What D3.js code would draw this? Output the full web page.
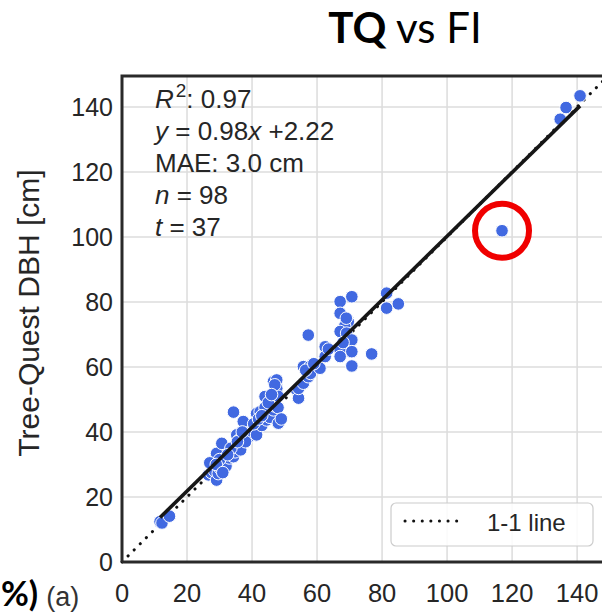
<!DOCTYPE html>
<html>
<head>
<meta charset="utf-8">
<script src="https://cdn.jsdelivr.net/npm/d3@7"></script>
<style>
  html, body { margin: 0; padding: 0; background: #fff; }
  svg { display: block; }
  text { font-family: "Liberation Sans", Arial, sans-serif; fill: #262626; }
</style>
</head>
<body>
<svg id="chart" width="602" height="613"></svg>
<script>
// field inventory DBH (x) vs Tree-Quest DBH (y), cm
var fiDbh = [11.7, 12.3, 14.6,
  26.6, 27.5, 28.1, 28.5, 29.1, 29.1, 29.6, 30.2, 30.7, 31.2, 31.5, 32.0, 33.0, 34.3, 34.8, 35.3, 35.0, 34.3, 36.0, 37.3, 36.5,
  39.0, 40.0, 41.4, 41.4, 42.5, 43.0, 44.0, 44.5, 45.0, 45.5, 46.6, 46.6, 46.6, 47.0, 47.6, 47.6, 47.6, 48.1, 48.0, 47.0, 48.0,
  53.8, 54.3, 54.3, 55.8, 55.8, 57.3, 57.8, 57.3, 58.0, 60.9, 62.5, 62.5, 63.5,
  67.1, 70.7, 67.1, 69.6, 68.5, 67.1, 69.1, 70.7, 67.1, 70.7, 67.1, 70.7, 68.0, 76.8,
  81.4, 81.4, 85.0,
  116.9, 134.8, 136.6, 140.9,
  27.0, 30.0, 33.5, 29.0, 32.5, 38.0, 40.5, 44.0, 45.0, 42.0, 46.0, 49.0, 35.5, 43.0, 31.0, 37.0, 56.5, 59.0, 69.0];
var tqDbh = [12.4, 12.0, 14.1,
  26.8, 27.5, 29.3, 28.0, 25.2, 33.4, 27.2, 28.8, 36.5, 31.4, 30.0, 29.5, 32.0, 32.4, 33.9, 39.1, 35.5, 46.1, 37.5, 43.2, 34.5,
  38.5, 40.0, 39.1, 45.7, 46.2, 42.0, 50.9, 43.7, 46.0, 44.5, 49.3, 46.8, 55.5, 48.0, 53.9, 56.0, 53.4, 42.7, 51.0, 54.5, 47.5,
  52.9, 50.4, 53.4, 55.0, 60.1, 57.0, 60.1, 69.8, 58.0, 59.6, 66.2, 63.2, 65.5,
  80.1, 81.6, 76.5, 73.9, 72.5, 70.9, 70.4, 68.3, 65.2, 64.7, 63.2, 60.3, 67.5, 64.0,
  82.7, 78.1, 79.4,
  101.9, 136.2, 139.8, 143.4,
  30.5, 31.5, 35.0, 30.0, 33.0, 37.0, 42.5, 47.5, 49.0, 44.0, 51.5, 44.0, 37.0, 45.0, 27.5, 40.0, 59.0, 61.0, 75.0];
var tickValues = [0, 20, 40, 60, 80, 100, 120, 140];
var fitSlope = 0.98, fitIntercept = 2.22;
var statLines = [
  [{t: "R", i: true}, {t: "2", sup: true}, {t: ": 0.97"}],
  [{t: "y", i: true}, {t: " = 0.98"}, {t: "x", i: true}, {t: " +2.22"}],
  [{t: "MAE: 3.0 cm"}],
  [{t: "n", i: true}, {t: " = 98"}],
  [{t: "t", i: true}, {t: " = 37"}]
];
var outlierIndex = 75;

var svg = d3.select("#chart");
var x = d3.scaleLinear().domain([0, 149.5]).range([122, 608]);
var y = d3.scaleLinear().domain([0, 149.5]).range([562, 76]);

// grid
svg.append("g").selectAll("line").data(tickValues).enter().append("line")
  .attr("x1", function(d) { return x(d); }).attr("x2", function(d) { return x(d); })
  .attr("y1", y(0)).attr("y2", y(149.5))
  .attr("stroke", "#dcdcdc").attr("stroke-width", 1.5);
svg.append("g").selectAll("line").data(tickValues).enter().append("line")
  .attr("y1", function(d) { return y(d); }).attr("y2", function(d) { return y(d); })
  .attr("x1", x(0)).attr("x2", x(149.5))
  .attr("stroke", "#dcdcdc").attr("stroke-width", 1.5);

// 1-1 line
svg.append("line")
  .attr("x1", x(0)).attr("y1", y(0)).attr("x2", x(149.5)).attr("y2", y(149.5))
  .attr("stroke", "#111").attr("stroke-width", 3)
  .attr("stroke-linecap", "round").attr("stroke-dasharray", "0.1,8.5");

// points
var pts = d3.range(fiDbh.length).map(function(i) { return [fiDbh[i], tqDbh[i]]; });
svg.append("g").selectAll("circle").data(pts).enter().append("circle")
  .attr("cx", function(d) { return x(d[0]); })
  .attr("cy", function(d) { return y(d[1]); })
  .attr("r", 6.3)
  .attr("fill", "#4169e1")
  .attr("stroke", "#fff").attr("stroke-width", 1);

// regression line
var xmin = d3.min(fiDbh), xmax = d3.max(fiDbh);
svg.append("line")
  .attr("x1", x(xmin)).attr("y1", y(fitSlope * xmin + fitIntercept))
  .attr("x2", x(xmax)).attr("y2", y(fitSlope * xmax + fitIntercept))
  .attr("stroke", "#161616").attr("stroke-width", 3.6);

// outlier highlight
svg.append("circle")
  .attr("cx", x(fiDbh[outlierIndex])).attr("cy", y(tqDbh[outlierIndex]))
  .attr("r", 27).attr("fill", "none")
  .attr("stroke", "#f00000").attr("stroke-width", 6);

// spines
svg.append("path")
  .attr("d", "M" + x(0) + "," + y(0) + "V" + y(149.5) + "H" + x(149.5))
  .attr("fill", "none").attr("stroke", "#2a2a2a").attr("stroke-width", 3);
svg.append("line")
  .attr("x1", x(0)).attr("x2", x(149.5)).attr("y1", y(0)).attr("y2", y(0))
  .attr("stroke", "#2a2a2a").attr("stroke-width", 3);

// tick labels
svg.append("g").selectAll("text").data(tickValues).enter().append("text")
  .attr("x", function(d) { return x(d); }).attr("y", 602)
  .attr("text-anchor", "middle").attr("font-size", 25.5)
  .text(function(d) { return d; });
svg.append("g").selectAll("text").data(tickValues).enter().append("text")
  .attr("x", 113).attr("y", function(d) { return y(d) + 9; })
  .attr("text-anchor", "end").attr("font-size", 25)
  .text(function(d) { return d; });

// y label
svg.append("text")
  .attr("transform", "translate(39,313) rotate(-90)")
  .attr("text-anchor", "middle").attr("font-size", 30)
  .text("Tree-Quest DBH [cm]");

// stats text
statLines.forEach(function(parts, li) {
  var t = svg.append("text").attr("x", 155).attr("y", 108 + li * 32).attr("font-size", 26);
  parts.forEach(function(p) {
    var s = t.append("tspan").text(p.t);
    if (p.i) s.attr("font-style", "italic");
    if (p.sup) s.attr("font-size", 19).attr("dy", -11).attr("dx", 2);
    else if (li === 0 && p.t.charAt(0) === ":") s.attr("dy", 11);
  });
});

// legend
var lg = svg.append("g");
lg.append("rect").attr("x", 391).attr("y", 503).attr("width", 202).attr("height", 43)
  .attr("rx", 5).attr("fill", "#fff").attr("fill-opacity", 0.85)
  .attr("stroke", "#cccccc").attr("stroke-width", 1.2);
lg.append("line").attr("x1", 405).attr("x2", 459).attr("y1", 521).attr("y2", 521)
  .attr("stroke", "#111").attr("stroke-width", 3)
  .attr("stroke-linecap", "round").attr("stroke-dasharray", "0.1,8.5");
lg.append("text").attr("x", 487).attr("y", 531).attr("font-size", 24).text("1-1 line");

// title
var title = svg.append("text").attr("x", 405).attr("y", 43).attr("text-anchor", "middle")
  .style("font-family", "Lato, 'Open Sans', sans-serif").style("fill", "#000").attr("font-size", 42);
title.append("tspan").attr("font-weight", "bold").text("TQ");
title.append("tspan").text(" vs FI");

// panel label
var pl = svg.append("text").attr("x", 1).attr("y", 606);
pl.append("tspan").style("font-family", "Lato, sans-serif").style("fill", "#000")
  .attr("font-weight", "bold").attr("font-size", 34).text("%)");
pl.append("tspan").attr("font-size", 27).attr("dx", 8).style("fill", "#333").text("(a)");
</script>
</body>
</html>
